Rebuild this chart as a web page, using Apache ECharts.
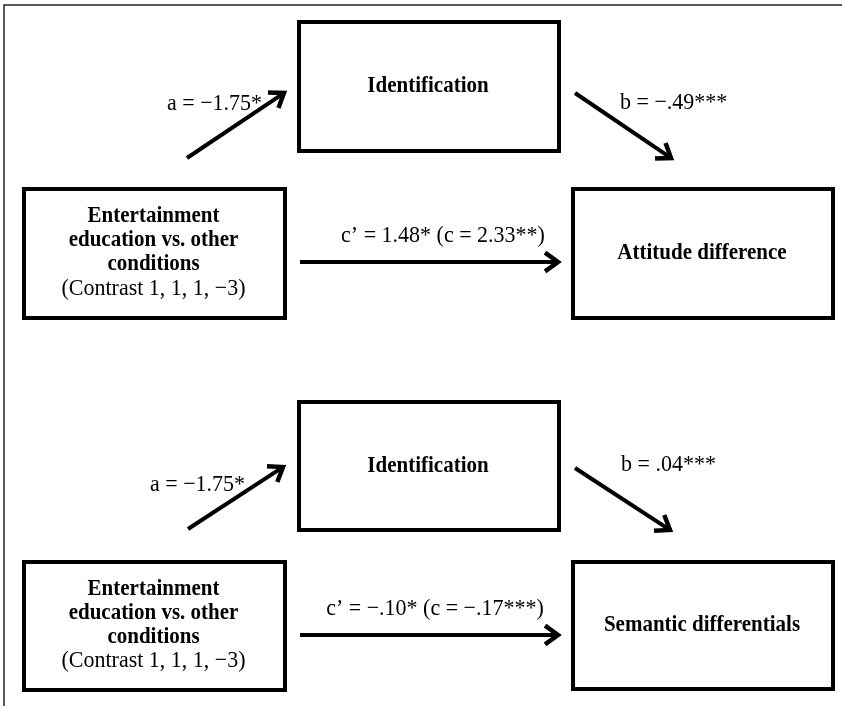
<!DOCTYPE html>
<html>
<head>
<meta charset="utf-8">
<script src="https://cdn.jsdelivr.net/npm/echarts@6/dist/echarts.min.js"></script>
<style>html,body{margin:0;padding:0;background:#fff}#c{width:842px;height:706px}</style>
</head>
<body>
<div id="c"></div>
<script>
// ---- data ----
const predictorLines = ['Entertainment', 'education vs. other', 'conditions', '(Contrast 1, 1, 1, \u22123)'];
const mediatorName = 'Identification';
const outcomeNames = ['Attitude difference', 'Semantic differentials'];
const aPath = [-1.75, -1.75];
const aSig = ['*', '*'];
const bPath = [-0.49, 0.04];
const bSig = ['***', '***'];
const cPrimePath = [1.48, -0.10];
const cPrimeSig = ['*', '*'];
const cTotalPath = [2.33, -0.17];
const cTotalSig = ['**', '***'];

// ---- layout (diagram coordinates) ----
const panelBoxes = [
  { med: [299, 22, 559, 151], pred: [24, 189, 285, 318], out: [573, 189, 833, 318] },
  { med: [299, 402, 559, 530], pred: [24, 562, 285, 690], out: [573, 562, 833, 689] }
];
const panelArrows = [
  { a: [187, 158, 284, 93], b: [575, 93, 671, 158], c: [300, 262, 558, 262] },
  { a: [188, 529, 283, 467], b: [575, 468, 670, 530], c: [300, 635, 558, 635] }
];
const panelLabelPos = [
  { a: [167, 104], b: [620, 103], c: [443, 236] },
  { a: [150, 485], b: [621, 465], c: [435, 609] }
];
const framePts = [[4, 706], [4, 5], [842, 5]];

function fmt(v) {
  const s = Math.abs(v).toFixed(2);
  const t = Math.abs(v) < 1 ? s.replace(/^0/, '') : s;
  return (v < 0 ? '\u2212' : '') + t;
}

const boxTexts = [];
boxTexts.push([{ t: mediatorName, b: true }]);
boxTexts.push(predictorLines.map((t, i) => ({ t, b: i < 3 })));
outcomeNames.forEach(n => boxTexts.push([{ t: n, b: true }]));

const boxData = [];
panelBoxes.forEach((p, k) => {
  boxData.push([...p.med, 0]);
  boxData.push([...p.pred, 1]);
  boxData.push([...p.out, 2 + k]);
});

const arrowData = [];
panelArrows.forEach(p => { arrowData.push(p.a, p.b, p.c); });

const labelTexts = [];
const labelData = [];
panelLabelPos.forEach((p, k) => {
  labelTexts.push('a = ' + fmt(aPath[k]) + aSig[k]);
  labelData.push([p.a[0], p.a[1], labelTexts.length - 1, 0]);
  labelTexts.push('b = ' + fmt(bPath[k]) + bSig[k]);
  labelData.push([p.b[0], p.b[1], labelTexts.length - 1, 0]);
  labelTexts.push('c\u2019 = ' + fmt(cPrimePath[k]) + cPrimeSig[k] + ' (c = ' + fmt(cTotalPath[k]) + cTotalSig[k] + ')');
  labelData.push([p.c[0], p.c[1], labelTexts.length - 1, 1]);
});

const FONT = '"Liberation Serif", "Times New Roman", serif';
const SY = 1.08; // slight vertical stretch seen in the reference glyphs

function renderBox(params, api) {
  const i = api.value(4);
  const p1 = api.coord([api.value(0), api.value(1)]);
  const p2 = api.coord([api.value(2), api.value(3)]);
  const lines = boxTexts[i];
  const children = [{
    type: 'rect',
    shape: { x: p1[0], y: p1[1], width: p2[0] - p1[0], height: p2[1] - p1[1] },
    style: { fill: '#fff', stroke: '#000', lineWidth: 4 }
  }];
  const cx = (p1[0] + p2[0]) / 2 - 1;
  const cy = (p1[1] + p2[1]) / 2 - (lines.length > 1 ? 1 : 0);
  const lh = 24;
  lines.forEach((ln, k) => {
    const ty = cy + (k - (lines.length - 1) / 2) * lh;
    children.push({
      type: 'text',
      x: cx, y: ty, scaleY: SY,
      style: {
        text: ln.t, x: 0, y: 0,
        align: 'center', verticalAlign: 'middle',
        font: (ln.b ? 'bold 21px ' : 'normal 22px ') + FONT, fill: '#000'
      }
    });
  });
  return { type: 'group', children };
}

function renderArrow(params, api) {
  const s = api.coord([api.value(0), api.value(1)]);
  const e = api.coord([api.value(2), api.value(3)]);
  const ang = Math.atan2(e[1] - s[1], e[0] - s[0]);
  const L = 16, phi = Math.PI / 5;
  const h1 = [e[0] - L * Math.cos(ang - phi), e[1] - L * Math.sin(ang - phi)];
  const h2 = [e[0] - L * Math.cos(ang + phi), e[1] - L * Math.sin(ang + phi)];
  const tipBack = [e[0] - 2 * Math.cos(ang), e[1] - 2 * Math.sin(ang)];
  return {
    type: 'group',
    children: [
      { type: 'line', shape: { x1: s[0], y1: s[1], x2: tipBack[0], y2: tipBack[1] }, style: { stroke: '#000', lineWidth: 4 } },
      { type: 'polyline', shape: { points: [h1, e, h2] }, style: { stroke: '#000', lineWidth: 4.5, fill: null, lineJoin: 'miter' } }
    ]
  };
}

function renderLabel(params, api) {
  const p = api.coord([api.value(0), api.value(1)]);
  return {
    type: 'text',
    x: p[0], y: p[1], scaleY: SY,
    style: {
      text: labelTexts[api.value(2)], x: 0, y: 0,
      align: api.value(3) === 1 ? 'center' : 'left', verticalAlign: 'middle',
      font: 'normal 22px ' + FONT, fill: '#000'
    }
  };
}

function renderFrame(params, api) {
  const pts = framePts.map(q => api.coord(q));
  return { type: 'polyline', shape: { points: pts }, style: { stroke: '#222', lineWidth: 1.5, fill: null } };
}

const chart = echarts.init(document.getElementById('c'), null, { renderer: 'canvas' });
chart.setOption({
  backgroundColor: '#fff',
  animation: false,
  grid: { left: 0, right: 0, top: 0, bottom: 0 },
  xAxis: { type: 'value', min: 0, max: 842, show: false },
  yAxis: { type: 'value', min: 0, max: 706, inverse: true, show: false },
  series: [
    { type: 'custom', renderItem: renderFrame, data: [[0, 0]], silent: true, clip: false },
    { type: 'custom', renderItem: renderBox, data: boxData, silent: true, clip: false, encode: { x: [0, 2], y: [1, 3] } },
    { type: 'custom', renderItem: renderArrow, data: arrowData, silent: true, clip: false, encode: { x: [0, 2], y: [1, 3] } },
    { type: 'custom', renderItem: renderLabel, data: labelData, silent: true, clip: false, encode: { x: 0, y: 1 } }
  ]
});
</script>
</body>
</html>
